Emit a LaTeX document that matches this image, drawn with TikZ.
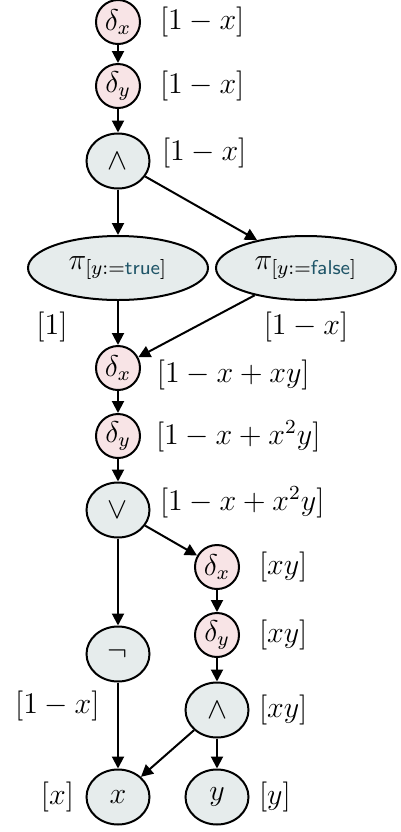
\documentclass[tikz,border=0pt,12pt]{standalone}
\usepackage{amsmath,amssymb}
\usepackage{tikz}
\usetikzlibrary{shapes.geometric,arrows.meta,positioning}
\usepackage{xcolor}
\definecolor{dltfill}{HTML}{F8E4E6}
\definecolor{opfill}{HTML}{E6ECEC}
\definecolor{subtxt}{HTML}{1F5568}

\begin{document}
\begin{tikzpicture}[node distance=8pt and 7pt,
 dlt/.style={circle,draw=black,fill=dltfill,line width=0.8pt,minimum size=17.6pt,inner sep=0pt},
 opnode/.style={ellipse,draw=black,fill=opfill,line width=0.8pt,minimum width=25.2pt,
   minimum height=22pt,inner sep=0pt},
 proj/.style={opnode,minimum width=72pt,minimum height=25.6pt},
 val/.style={inner sep=1pt},
 ar/.style={draw,-{Triangle[length=4.8pt,width=4.8pt]},line width=0.8pt}]
\useasboundingbox (0,0) rectangle (160.4pt,-332.8pt);
% left column
\node [dlt] (dx1) at (47.2pt,-8.8pt) {$\delta_x$};
\node [dlt,below=7.2pt of dx1] (dy1) {$\delta_y$};
\node [opnode,below=9.4pt of dy1] (and1) {$\wedge$};
\node [proj,below=18.2pt of and1] (pit) {$\pi_{[y:=\textcolor{subtxt}{\mathsf{true}}]}$};
\node [proj,right=2.4pt of pit] (pif) {$\pi_{[y:=\textcolor{subtxt}{\mathsf{false}}]}$};
\node [dlt,below=17.6pt of pit] (dx2) {$\delta_x$};
\node [dlt,below=8.8pt of dx2] (dy2) {$\delta_y$};
\node [opnode,below=9pt of dy2] (or) {$\vee$};
\node [opnode,below=34.8pt of or] (neg) {$\neg$};
\node [opnode,below=34.4pt of neg] (xv) {$x$};
% right column, built upwards from y
\node [opnode,right=13.6pt of xv] (yv) {$y$};
\node [opnode,above=12pt of yv] (and2) {$\wedge$};
\node [dlt,above=9.4pt of and2] (dy3) {$\delta_y$};
\node [dlt,above=8.8pt of dy3] (dx3) {$\delta_x$};
% values
\node [val,right=6.4pt of dx1] (vdx1) {$[1-x]$};
\node [val,right=6.4pt of dy1] (vdy1) {$[1-x]$};
\node [val,right=3.4pt of and1,yshift=3.2pt] (vand1) {$[1-x]$};
\node [val,below left=3.2pt and 19pt of pit.south] (vpit) {$[1]$};
\node [val,below=3.2pt of pif.south] (vpif) {$[1-x]$};
\node [val,right=5.2pt of dx2,yshift=-2.8pt] (vdx2) {$[1-x+xy]$};
\node [val,right=4.8pt of dy2] (vdy2) {$[1-x+x^2y]$};
\node [val,right=2.6pt of or,yshift=3.2pt] (vor) {$[1-x+x^2y]$};
\node [val,below left=2pt and 6.2pt of neg.south] (vneg) {$[1-x]$};
\node [val,right=6.4pt of dx3] (vdx3) {$[xy]$};
\node [val,right=6.4pt of dy3] (vdy3) {$[xy]$};
\node [val,right=2.6pt of and2] (vand2) {$[xy]$};
\node [val,right=2.6pt of yv] (vyv) {$[y]$};
\node [val,left=3.4pt of xv] (vxv) {$[x]$};
% edges
\path [ar] (dx1)--(dy1); \path [ar] (dy1)--(and1);
\path [ar] (and1)--(pit); \path [ar] (and1)--(pif);
\path [ar] (pit)--(dx2); \path [ar] (pif)--(dx2);
\path [ar] (dx2)--(dy2); \path [ar] (dy2)--(or);
\path [ar] (or)--(neg); \path [ar] (or)--(dx3);
\path [ar] (neg)--(xv);
\path [ar] (dx3)--(dy3); \path [ar] (dy3)--(and2);
\path [ar] (and2)--(yv); \path [ar] (and2)--(xv);
\end{tikzpicture}
\end{document}
